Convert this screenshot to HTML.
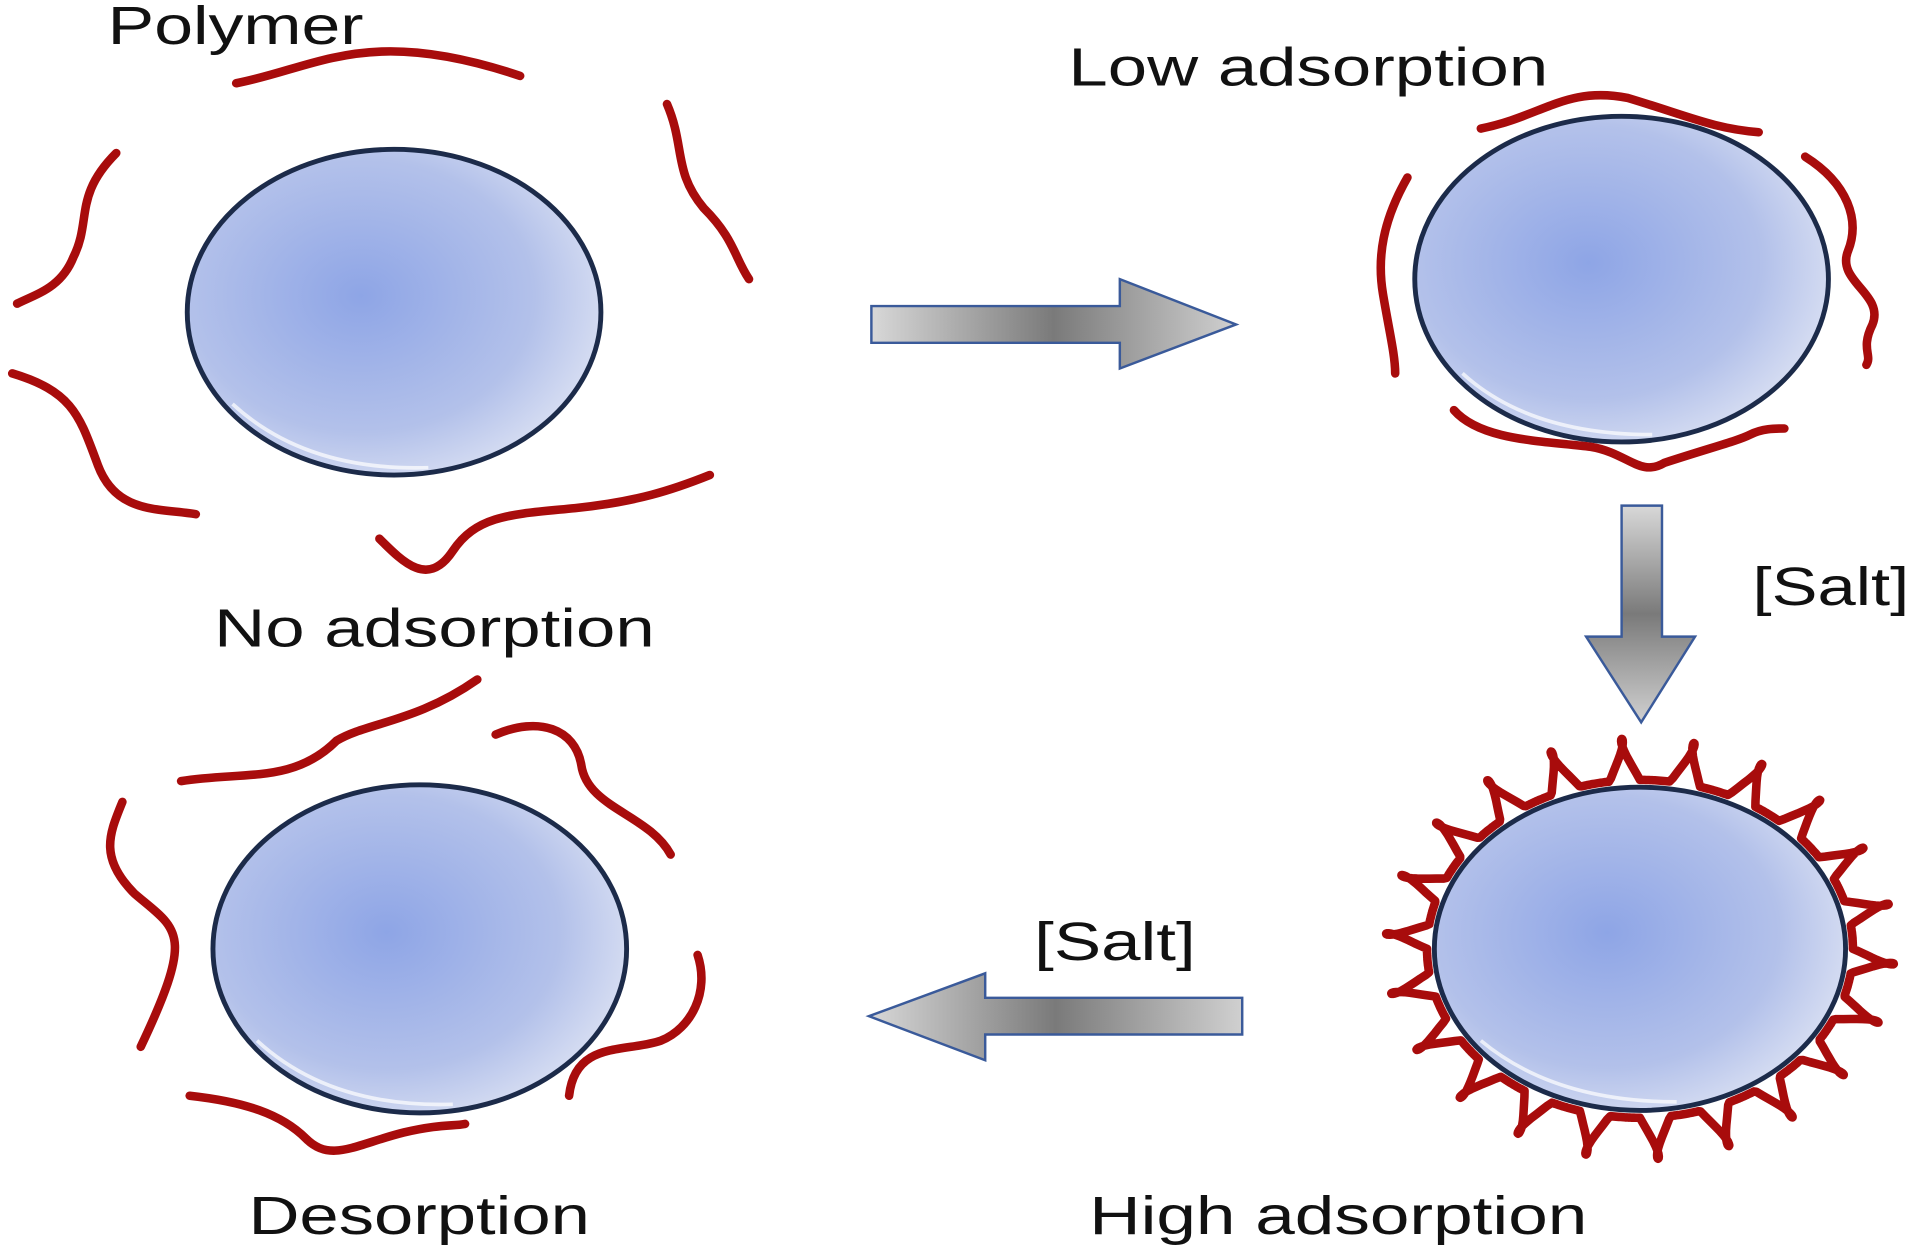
<!DOCTYPE html>
<html><head><meta charset="utf-8"><style>
html,body{margin:0;padding:0;background:#fff;width:1919px;height:1250px;overflow:hidden}
svg{display:block}
text{font-family:"Liberation Sans",sans-serif;font-size:44px;fill:#111}
</style></head><body>
<svg width="1919" height="1250" viewBox="0 0 1568 1021" preserveAspectRatio="none" xmlns="http://www.w3.org/2000/svg">
<defs>
<radialGradient id="ball" cx="0.42" cy="0.45" r="0.6">
<stop offset="0" stop-color="#8ea5e6"/><stop offset="0.7" stop-color="#b3c1ea"/><stop offset="1" stop-color="#d6ddf2"/>
</radialGradient>
<linearGradient id="gh" x1="0" x2="1" y1="0" y2="0">
<stop offset="0" stop-color="#d8d8d8"/><stop offset="0.5" stop-color="#7a7a7a"/><stop offset="1" stop-color="#d0d0d0"/>
</linearGradient>
<linearGradient id="gv" x1="0" x2="0" y1="0" y2="1">
<stop offset="0" stop-color="#d8d8d8"/><stop offset="0.5" stop-color="#7a7a7a"/><stop offset="1" stop-color="#d0d0d0"/>
</linearGradient>
</defs>
<g stroke="#1c2b4a" stroke-width="4" fill="url(#ball)">
<ellipse cx="322" cy="255" rx="169" ry="133"/>
<ellipse cx="1325" cy="228" rx="169" ry="133"/>
<ellipse cx="1340" cy="775" rx="168" ry="132"/>
<ellipse cx="343" cy="775" rx="169" ry="134"/>
</g>
<g fill="none" stroke="#fff" stroke-width="3" opacity="0.7">
<path d="M190 330 Q250 385 350 382"/><path d="M1195 305 Q1250 355 1350 355"/>
<path d="M210 850 Q270 905 370 902"/><path d="M1210 850 Q1270 900 1370 900"/>
</g>
<g stroke="#3a5a9a" stroke-width="2">
<path d="M712 250 H915 V228 L1010 265 L915 301 V280 H712 Z" fill="url(#gh)"/>
<path d="M1325 413 H1358 V520 H1385 L1341 590 L1296 520 H1325 Z" fill="url(#gv)"/>
<path d="M1015 815 H805 V795 L710 830 L805 866 V845 H1015 Z" fill="url(#gh)"/>
</g>
<g fill="none" stroke="#a80c0c" stroke-width="7" stroke-linecap="round">
<path d="M193 68 C260 55 300 20 425 62"/>
<path d="M95 125 C60 160 75 180 60 210 C50 235 30 240 14 248"/>
<path d="M545 85 C560 120 550 140 575 170 C600 195 600 210 612 228"/>
<path d="M10 305 C60 320 65 340 80 380 C95 420 130 415 160 420"/>
<path d="M310 440 C330 460 350 480 370 450 C390 420 420 420 470 415 C520 410 550 400 580 388"/>
<path d="M1210 105 C1260 95 1280 70 1330 80 C1380 95 1400 105 1437 108"/>
<path d="M1150 145 C1130 180 1125 210 1130 240 C1135 270 1140 290 1140 305"/>
<path d="M1475 128 C1510 150 1520 180 1510 205 C1500 230 1540 240 1530 265 C1520 285 1530 290 1525 298"/>
<path d="M1188 335 C1210 360 1260 360 1300 365 C1330 370 1340 390 1360 378 C1400 365 1420 360 1430 355 C1440 350 1450 350 1458 350"/>
<path d="M148 638 C200 630 240 640 275 605 C300 590 340 590 390 555"/>
<path d="M405 600 C440 585 470 595 475 625 C480 660 530 665 548 698"/>
<path d="M100 655 C90 680 80 700 110 730 C145 760 160 760 115 855"/>
<path d="M570 780 C580 810 565 840 540 850 C510 860 470 850 465 895"/>
<path d="M155 895 C200 900 230 910 250 930 C270 950 290 935 330 925 C360 918 370 920 380 918"/>
</g>
<path id="fuzz" fill="none" stroke="#a80c0c" stroke-width="7" stroke-linejoin="round"/>
<g lengthAdjust="spacingAndGlyphs">
<text x="88" y="36" textLength="209" lengthAdjust="spacingAndGlyphs">Polymer</text>
<text x="873" y="70" textLength="392" lengthAdjust="spacingAndGlyphs">Low adsorption</text>
<text x="175" y="528" textLength="360" lengthAdjust="spacingAndGlyphs">No adsorption</text>
<text x="1432" y="494" textLength="128" lengthAdjust="spacingAndGlyphs">[Salt]</text>
<text x="845" y="784" textLength="132" lengthAdjust="spacingAndGlyphs">[Salt]</text>
<text x="203" y="1008" textLength="279" lengthAdjust="spacingAndGlyphs">Desorption</text>
<text x="890" y="1008" textLength="407" lengthAdjust="spacingAndGlyphs">High adsorption</text>
</g>
</svg>
<script>
(function(){
var cx=1340,cy=775,rx=168,ry=132,n=22,d="";
for(var i=0;i<=900;i++){
var t=i/900*2*Math.PI;
var ph=t*n;
var w=Math.sin(ph);
var off=6+34*Math.max(0,w);
var a=t+Math.cos(ph)*Math.max(0,w)*0.06;
var x=cx+(rx+off)*Math.cos(a), y=cy+(ry+off)*Math.sin(a);
d+=(i?"L":"M")+x.toFixed(1)+" "+y.toFixed(1);
}
document.getElementById("fuzz").setAttribute("d",d+"Z");
})();
</script>
</body></html>
